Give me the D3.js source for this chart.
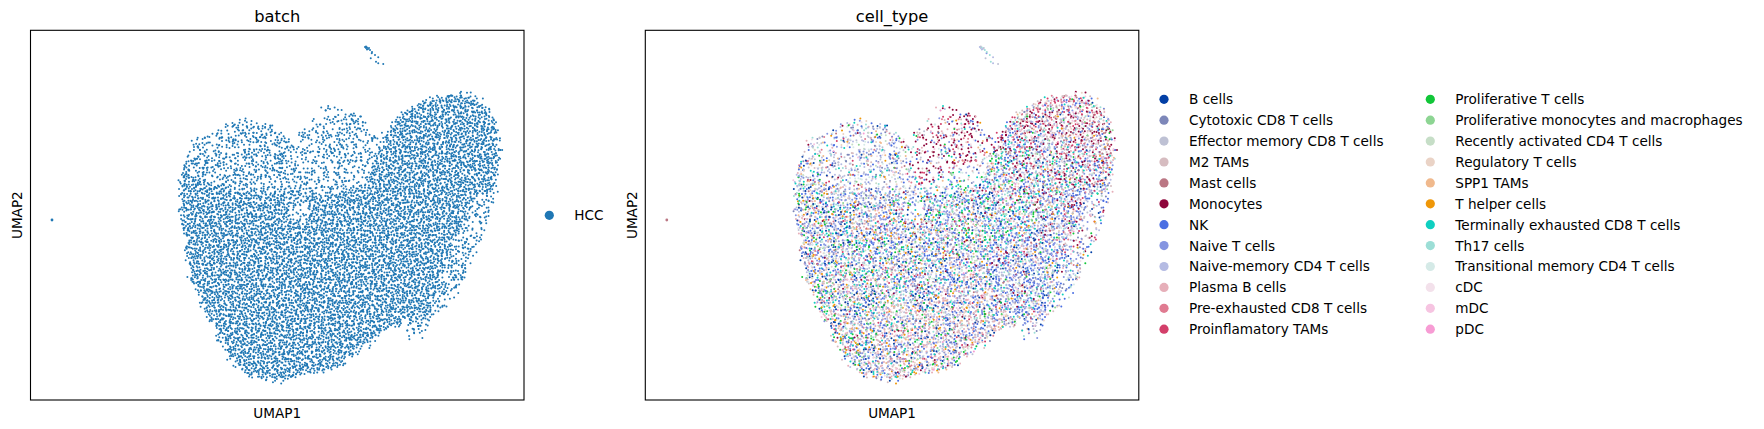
<!DOCTYPE html>
<html>
<head>
<meta charset="utf-8">
<script src="https://cdn.jsdelivr.net/npm/d3@7"></script>
<style>
body { margin: 0; background: #fff; }
text { font-family: "DejaVu Sans", sans-serif; fill: #000; }
</style>
</head>
<body>
<svg id="fig" width="1764" height="429"></svg>
<script>
// ---- data (UMAP units) ----

var umap1Domain = [-3.98, 15.76]
var umap2Domain = [-4.0, 10.79]

var batchNames = ['HCC']
var batchColors = ['#1f77b4']

var cellTypes = ['B cells', 'Cytotoxic CD8 T cells', 'Effector memory CD8 T cells', 'M2 TAMs',
  'Mast cells', 'Monocytes', 'NK', 'Naive T cells', 'Naive-memory CD4 T cells', 'Plasma B cells',
  'Pre-exhausted CD8 T cells', 'Proinflamatory TAMs', 'Proliferative T cells',
  'Proliferative monocytes and macrophages', 'Recently activated CD4 T cells', 'Regulatory T cells',
  'SPP1 TAMs', 'T helper cells', 'Terminally exhausted CD8 T cells', 'Th17 cells',
  'Transitional memory CD4 T cells', 'cDC', 'mDC', 'pDC']

var cellColors = ['#023fa5', '#7d87b9', '#bec1d4', '#d6bcc0', '#bb7784', '#8e063b', '#4a6fe3',
  '#8595e1', '#b5bbe3', '#e6afb9', '#e07b91', '#d33f6a', '#11c638', '#8dd593', '#c6dec7',
  '#ead3c6', '#f0b98d', '#ef9708', '#0fcfc0', '#9cded6', '#d5eae7', '#f3e1eb', '#f6c4e1', '#f79cd4']

// outline of the main cloud
var cloudOutline = [
  [2.04, 4.80], [2.12, 5.40], [2.40, 6.00], [2.52, 6.36], [2.92, 6.48], [3.28, 6.64], [3.72, 6.84],
  [4.20, 7.12], [4.52, 7.20], [5.08, 6.96], [5.48, 7.00], [5.88, 6.72], [6.40, 6.36], [6.92, 6.68],
  [7.32, 7.12], [7.68, 7.52], [7.88, 7.84], [8.12, 7.64], [8.68, 7.44], [9.28, 7.36], [9.60, 7.12],
  [9.72, 6.60], [9.92, 5.92], [10.08, 6.40], [10.28, 6.76], [10.52, 7.12], [10.80, 7.40],
  [11.20, 7.72], [11.72, 8.00], [12.40, 8.12], [13.08, 8.24], [13.60, 8.20], [14.08, 7.96],
  [14.40, 7.52], [14.68, 6.80], [14.84, 6.12], [14.72, 5.40], [14.60, 4.40], [14.48, 3.60],
  [14.28, 3.12], [14.00, 2.60], [13.72, 1.88], [13.48, 1.08], [13.08, 0.28], [12.80, -0.20],
  [12.12, -0.44], [11.92, -1.00], [11.60, -1.40], [11.20, -1.44], [10.96, -0.92], [10.40, -1.12],
  [9.88, -1.52], [9.32, -1.92], [8.80, -2.32], [8.52, -2.64], [8.00, -2.76], [7.20, -2.92],
  [6.68, -3.08], [6.00, -3.32], [5.60, -3.16], [4.80, -3.04], [4.40, -2.76], [4.00, -2.36],
  [3.72, -1.84], [3.48, -1.40], [3.20, -0.80], [2.80, 0.00], [2.40, 1.00], [2.28, 1.80],
  [2.16, 2.60], [2.00, 3.60], [2.00, 4.20]
]

// thinner parts of the cloud and their share of a full density
var sparseAreas = [
  [[6.40, 6.36], [6.92, 6.68], [7.88, 7.84], [8.68, 7.44], [9.68, 7.20], [9.92, 5.92], [9.40, 4.60], [8.00, 4.20], [6.40, 4.40]],
  [[2.40, 6.20], [4.52, 7.24], [6.40, 6.36], [6.40, 4.40], [4.80, 4.20], [2.40, 5.00]],
  [[7.00, 5.60], [7.50, 5.75], [7.90, 5.30], [7.60, 4.90], [7.00, 5.00]],
  [[6.40, 4.00], [7.00, 4.10], [7.20, 3.50], [6.80, 3.00], [6.30, 3.40]],
  [[3.00, 6.60], [3.92, 6.60], [3.92, 5.92], [3.00, 5.92]],
  [[13.60, 4.00], [14.64, 4.40], [14.28, 3.12], [14.00, 2.60], [13.48, 1.08], [12.80, -0.20], [12.12, -0.44], [12.40, 0.80], [13.00, 2.40]],
  [[10.90, -0.70], [12.10, -0.70], [12.10, -1.50], [10.90, -1.50]]
]
var sparseLevels = [0.42, 0.55, 0.3, 0.4, 0.35, 0.5, 0.6]

// small cluster at the top and the lone cell on the left
var extraU1 = [9.40, 9.44, 9.48, 9.52, 9.56, 9.60, 9.48, 9.44, 9.67, 9.80, 9.93, 9.63, 9.84, 9.93, 10.13, 9.68, -3.12]
var extraU2 = [10.12, 10.08, 10.10, 10.04, 10.08, 10.00, 10.02, 10.14, 9.87, 9.80, 9.71, 9.67, 9.53, 9.47, 9.44, 9.92, 3.20]
var extraType = [8, 8, 19, 8, 2, 19, 8, 2, 7, 19, 8, 2, 19, 8, 2, 19, 4]

// where each mix of cell types sits, and the mix (weights in cellTypes order)
var zoneCenters = [
  [4.20, 5.40], [3.00, 2.60], [8.40, 7.00], [13.00, 7.00], [9.80, 4.00], [13.40, 3.40],
  [12.00, 0.60], [6.80, -1.80], [4.00, -0.40], [6.80, 1.60], [12.40, 5.60], [8.80, -1.20]
]
var zoneMix = [
  [1, 2, 3, 1, 0.3, 0.3, 3, 3, 4, 1, 0.5, 0.5, 0.5, 0.3, 1, 1, 1, 0.7, 1, 1, 2, 0.5, 0.3, 0.2],
  [2.5, 1, 1, 1, 0.2, 0.2, 3, 3, 2, 2, 0.5, 0.5, 1, 0.3, 0.7, 1, 0.7, 1, 1.5, 1, 1, 0.3, 0.3, 0.2],
  [0.2, 0.3, 0.5, 1, 0.5, 6, 1.5, 1, 1, 0.5, 1, 2, 0.2, 0.1, 0.2, 0.3, 0.3, 0.2, 0.5, 0.3, 0.3, 0.2, 0.2, 0.1],
  [0.3, 0.5, 0.7, 4, 1.5, 3, 1.5, 1, 1, 1, 1, 2, 0.3, 0.2, 0.3, 0.5, 0.3, 0.2, 0.5, 0.5, 0.5, 1, 0.7, 0.3],
  [1, 1, 1, 1, 0.3, 0.5, 3, 3, 2, 1, 0.5, 0.5, 1.5, 0.5, 0.5, 0.5, 0.5, 0.5, 2.5, 1, 1, 0.3, 0.2, 0.2],
  [0.7, 1, 1, 1.5, 0.5, 1.5, 3, 3, 2, 0.5, 0.5, 1, 0.3, 0.2, 0.3, 0.3, 0.3, 0.3, 1, 1, 0.5, 0.3, 0.3, 0.2],
  [1, 1, 1, 0.7, 0.2, 0.5, 4, 3, 2, 1, 0.3, 0.3, 0.3, 0.2, 0.5, 0.3, 0.3, 0.3, 0.7, 1, 0.7, 0.2, 0.2, 0.1],
  [1.5, 1, 1, 3, 0.3, 0.2, 2, 2, 1.5, 4, 0.5, 0.3, 1, 0.3, 0.5, 1, 0.5, 1, 1, 0.5, 0.7, 0.5, 0.5, 0.2],
  [1.5, 1, 1, 1.5, 0.2, 0.2, 2, 2, 1, 2.5, 0.5, 0.3, 1.5, 0.5, 0.5, 0.7, 0.5, 1, 1.5, 0.5, 0.7, 0.3, 0.3, 0.2],
  [1.5, 1, 1, 1, 0.2, 0.3, 3, 3, 2, 1.5, 0.5, 0.5, 1, 0.3, 0.5, 0.7, 0.5, 1, 1.5, 1, 1, 0.3, 0.3, 0.2],
  [0.5, 1, 1, 2, 0.7, 2, 2.5, 2, 1.5, 0.7, 0.7, 1.5, 0.5, 0.3, 0.3, 0.3, 0.3, 0.3, 1.5, 1, 0.7, 0.5, 0.3, 0.2],
  [1, 1, 1, 3, 0.3, 0.2, 2.5, 2, 1.5, 3.5, 0.5, 0.3, 0.7, 0.2, 0.3, 0.7, 0.3, 0.7, 0.7, 0.5, 0.5, 0.3, 0.3, 0.2]
]

// ---- layout ----

var boxW = 493.5, boxTop = 30.3, boxBottom = 400
var panelX = [30.5, 645.3]
var step = 0.093   // spacing of the dot raster, UMAP units
var fringe = 0.16  // width of the ragged rim, UMAP units

var svg = d3.select('#fig')

// fixed grain so the raster does not look like a grid
var grain = function(i, j, s){
	var a = Math.sin(i * 127.1 + j * 311.7 + s * 74.7) * 43758.5453
	return a - Math.floor(a)
}

var densityAt = function(p){
	var dens = 1
	sparseAreas.forEach(function(poly, i){
		if (d3.polygonContains(poly, p)) dens = Math.min(dens, sparseLevels[i])
	})
	return dens
}

// distance from a point to the cloud outline
var edgeDistance = function(p){
	var best = Infinity
	for (var n = 0; n < cloudOutline.length; n++) {
		var a = cloudOutline[n], b = cloudOutline[(n + 1) % cloudOutline.length]
		var dx = b[0] - a[0], dy = b[1] - a[1]
		var t = ((p[0] - a[0]) * dx + (p[1] - a[1]) * dy) / (dx * dx + dy * dy)
		t = Math.max(0, Math.min(1, t))
		var ex = a[0] + t * dx - p[0], ey = a[1] + t * dy - p[1]
		best = Math.min(best, ex * ex + ey * ey)
	}
	return Math.sqrt(best)
}

// lay the cloud out as a dot raster
var dots = []
var ext1 = d3.extent(cloudOutline, function(d){ return d[0] })
var ext2 = d3.extent(cloudOutline, function(d){ return d[1] })
var u0 = ext1[0] - fringe, v0 = ext2[1] + fringe
var nI = Math.ceil((ext1[1] - ext1[0] + 2 * fringe) / step), nJ = Math.ceil((ext2[1] - ext2[0] + 2 * fringe) / step)
for (var j = 0; j <= nJ; j++) {
	for (var i = 0; i <= nI; i++) {
		var p = [u0 + (i + (grain(i, j, 1) - 0.5) * 1.6) * step,
		         v0 - (j + (grain(i, j, 2) - 0.5) * 1.6) * step]
		var inside = d3.polygonContains(cloudOutline, p)
		var dens = densityAt(p)
		var ed = edgeDistance(p)
		if (!inside) {
			if (ed > fringe) continue
			dens *= 0.35 * (1 - ed / fringe)
		} else if (ed < fringe) {
			dens *= 0.55 + 0.45 * ed / fringe
		}
		if (grain(i, j, 3) >= dens) continue
		dots.push({u: p[0], v: p[1], type: -1, big: false, key: grain(i, j, 4)})
	}
}
extraU1.forEach(function(u, i){
	dots.push({u: u, v: extraU2[i], type: extraType[i], big: u < 0, key: 1})
})

// give each dot a cell type so every zone keeps its mix
var zoneSum = zoneMix.map(function(m){ return d3.sum(m) })
var zoneCount = zoneMix.map(function(m){ return m.map(function(){ return 0 }) })
var zoneN = zoneMix.map(function(){ return 0 })
var drawOrder = dots.slice().sort(function(a, b){ return a.key - b.key })
drawOrder.forEach(function(d){
	if (d.type >= 0) return
	var z = d3.minIndex(zoneCenters, function(c){
		return (c[0] - d.u) * (c[0] - d.u) + (c[1] - d.v) * (c[1] - d.v)
	})
	zoneN[z]++
	var best = d3.maxIndex(zoneMix[z], function(w, t){
		return w / zoneSum[z] * zoneN[z] - zoneCount[z][t]
	})
	zoneCount[z][best]++
	d.type = best
})

// ---- panels ----

var titles = ['batch', 'cell_type']

panelX.forEach(function(x0, pi){
	var x = d3.scaleLinear().domain(umap1Domain).range([x0, x0 + boxW])
	var y = d3.scaleLinear().domain(umap2Domain).range([boxBottom, boxTop])
	var g = svg.append('g')

	g.selectAll('circle.dot').data(drawOrder).enter().append('circle')
		.attr('class', 'dot')
		.attr('cx', function(d){ return x(d.u) })
		.attr('cy', function(d){ return y(d.v) })
		.attr('r', function(d){ return d.big ? 1.4 : 1.0 })
		.attr('fill', function(d){ return pi === 0 ? batchColors[0] : cellColors[d.type] })

	g.append('rect')
		.attr('x', x0).attr('y', boxTop)
		.attr('width', boxW).attr('height', boxBottom - boxTop)
		.attr('fill', 'none').attr('stroke', '#000').attr('stroke-width', 1.1)

	g.append('text')
		.attr('x', x0 + boxW / 2).attr('y', 22.3)
		.attr('text-anchor', 'middle').style('font-size', '16.3px')
		.text(titles[pi])

	g.append('text')
		.attr('x', x0 + boxW / 2).attr('y', 417.5)
		.attr('text-anchor', 'middle').style('font-size', '13.6px')
		.text('UMAP1')

	g.append('text')
		.attr('transform', 'translate(' + (x0 - 8.5) + ',' + ((boxTop + boxBottom) / 2) + ') rotate(-90)')
		.attr('text-anchor', 'middle').style('font-size', '13.6px')
		.text('UMAP2')
})

// ---- legends ----

var batchLegend = svg.append('g')
batchNames.forEach(function(name, i){
	batchLegend.append('circle').attr('cx', 549.3).attr('cy', 215.3).attr('r', 4.6).attr('fill', batchColors[i])
	batchLegend.append('text').attr('x', 574.3).attr('y', 215.3 + 4.9).style('font-size', '13.6px').text(name)
})

var typeLegend = svg.append('g')
var legendDotX = [1164, 1430.3], legendTextX = [1189, 1455.3]
cellTypes.forEach(function(name, i){
	var col = Math.floor(i / 12), row = i % 12
	var cy = 99.3 + row * 20.9
	typeLegend.append('circle').attr('cx', legendDotX[col]).attr('cy', cy).attr('r', 4.6).attr('fill', cellColors[i])
	typeLegend.append('text').attr('x', legendTextX[col]).attr('y', cy + 4.9).style('font-size', '13.6px').text(name)
})
</script>
</body>
</html>
